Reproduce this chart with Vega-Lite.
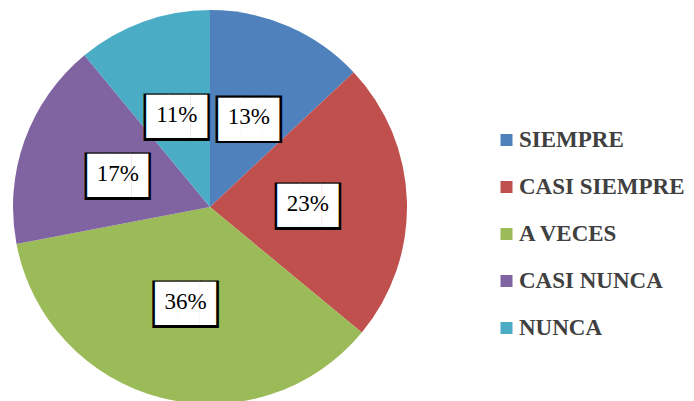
{
  "$schema": "https://vega.github.io/schema/vega-lite/v6.json",
  "width": 420,
  "height": 414,
  "padding": 0,
  "autosize": {"type": "pad"},
  "background": "white",
  "config": {"view": {"stroke": null}},
  "data": {
    "values": [
      {"categoria": "SIEMPRE", "porcentaje": 0.13, "orden": 1},
      {"categoria": "CASI SIEMPRE", "porcentaje": 0.23, "orden": 2},
      {"categoria": "A VECES", "porcentaje": 0.36, "orden": 3},
      {"categoria": "CASI NUNCA", "porcentaje": 0.17, "orden": 4},
      {"categoria": "NUNCA", "porcentaje": 0.11, "orden": 5}
    ]
  },
  "encoding": {
    "theta": {"field": "porcentaje", "type": "quantitative", "stack": true},
    "order": {"field": "orden", "type": "quantitative"}
  },
  "layer": [
    {
      "mark": {"type": "arc", "outerRadius": 197},
      "encoding": {
        "color": {
          "field": "categoria",
          "type": "nominal",
          "scale": {
            "domain": ["SIEMPRE", "CASI SIEMPRE", "A VECES", "CASI NUNCA", "NUNCA"],
            "range": ["#4F81BD", "#C0504D", "#9BBB59", "#8064A2", "#4BACC6"]
          },
          "legend": {
            "title": null,
            "orient": "none",
            "legendX": 495,
            "legendY": 128.5,
            "symbolType": "square",
            "symbolSize": 144,
            "symbolStrokeWidth": 0,
            "labelFont": "Liberation Serif, Times New Roman, serif",
            "labelFontSize": 23,
            "labelFontWeight": "bold",
            "labelColor": "#404040",
            "labelOffset": 1,
            "labelLimit": 300,
            "rowPadding": 23,
            "padding": 0
          }
        }
      }
    },
    {
      "mark": {"type": "text", "radius": 98, "text": "██▊", "font": "DejaVu Sans Mono", "fontSize": 40, "baseline": "alphabetic", "align": "center", "dx": 3.0, "dy": 16, "fill": "black"},
      "encoding": {"detail": {"field": "categoria", "type": "nominal"}}
    },
    {
      "mark": {"type": "text", "radius": 98, "text": "██▊", "font": "DejaVu Sans Mono", "fontSize": 36.4, "baseline": "alphabetic", "align": "center", "dx": 2.74, "dy": 14.56, "fill": "white"},
      "encoding": {"detail": {"field": "categoria", "type": "nominal"}}
    },
    {
      "mark": {"type": "text", "radius": 98, "font": "Liberation Serif, Times New Roman, serif", "fontSize": 23, "baseline": "middle", "align": "center", "fill": "black"},
      "encoding": {
        "detail": {"field": "categoria", "type": "nominal"},
        "text": {"field": "porcentaje", "type": "quantitative", "format": ".0%"}
      }
    }
  ]
}
